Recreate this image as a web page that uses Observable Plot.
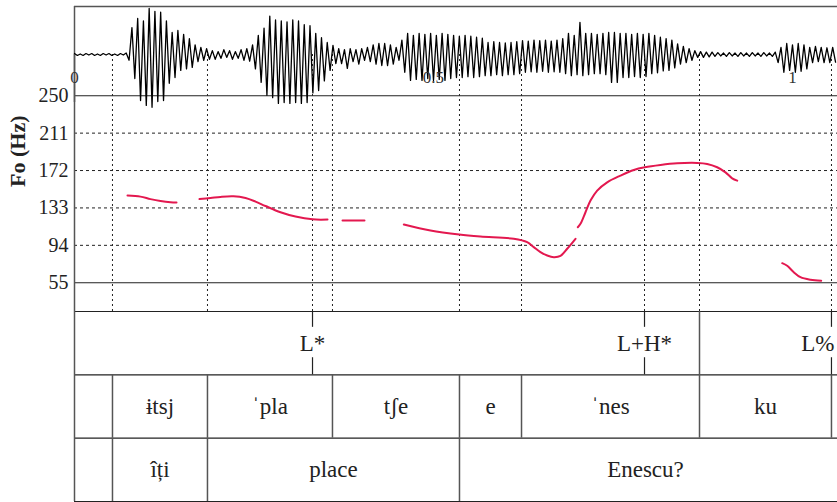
<!DOCTYPE html>
<html>
<head>
<meta charset="utf-8">
<script src="https://cdn.jsdelivr.net/npm/d3@7"></script>
<script src="https://cdn.jsdelivr.net/npm/@observablehq/plot@0.6"></script>
<style>
  html, body { margin: 0; padding: 0; background: #fff; }
  #chart { position: relative; width: 837px; height: 502px; overflow: hidden; }
  #chart svg { position: absolute; left: 0; top: 0; overflow: visible; }
</style>
</head>
<body>
<div id="chart"></div>
<script>
// ---- time axis (seconds) ----
const timeDomain = [0, 1.0627];
const timeTicks = [0, 0.5, 1];

// ---- F0 axis (Hz) ----
const hzDomain = [25, 293];
const hzTicks = [55, 94, 133, 172, 211, 250];
const hzSolid = [55, 250];
const hzDotted = [94, 133, 172, 211];

// ---- waveform: peak amplitudes (full scale = 1), one every 4 ms ----
const waveStart = 0;
const waveStep = 0.004;
const waveAmp = [
  0.02,-0.02,0.01,-0.02,0.02,-0.01,0.02,-0.02,0.01,-0.02,0.02,-0.01,0.02,-0.02,0.01,-0.02,0.02,-0.01,
  0.03,-0.12,0.56,-0.5,0.75,-0.96,0.7,-1.06,0.96,-1.1,0.9,-0.98,0.88,-0.96,0.7,-0.6,0.46,-0.48,0.5,-0.33,0.42,-0.3,0.33,-0.27,0.2,-0.15,0.15,-0.12,0.12,-0.1,
  0.08,-0.1,0.06,-0.08,0.1,-0.06,0.08,-0.1,0.06,-0.08,0.1,-0.12,0.12,-0.14,0.2,-0.3,
  0.4,-0.58,0.55,-0.85,0.8,-0.9,0.72,-1.02,0.7,-1.0,0.68,-1.02,0.72,-1.0,0.7,-1.02,0.62,-1.0,0.6,-0.8,0.44,-0.75,0.35,-0.55,0.25,-0.33,
  0.19,-0.19,0.12,-0.19,0.1,-0.29,0.12,-0.15,0.1,-0.2,0.12,-0.12,0.15,-0.15,0.2,-0.2,0.23,-0.23,0.23,-0.23,0.2,-0.2,0.15,-0.12,0.3,-0.37,0.44,-0.54,0.4,-0.52,
  0.44,-0.54,0.42,-0.5,0.44,-0.54,0.4,-0.52,0.44,-0.54,0.42,-0.5,0.4,-0.48,0.38,-0.48,0.4,-0.46,0.38,-0.48,0.36,-0.46,0.34,-0.44,0.25,-0.44,0.27,-0.42,0.25,-0.44,0.24,-0.42,0.25,-0.42,0.27,-0.4,
  0.29,-0.37,0.28,-0.36,0.3,-0.37,0.29,-0.35,0.3,-0.37,0.28,-0.36,0.3,-0.37,0.33,-0.4,0.44,-0.44,0.4,-0.42,0.67,-0.44,0.44,-0.42,0.44,-0.4,0.42,-0.4,0.44,-0.42,0.46,-0.58,0.46,-0.58,0.44,-0.48,0.44,-0.48,0.42,-0.46,0.44,-0.48,0.42,-0.46,
  0.44,-0.4,0.4,-0.38,0.36,-0.34,0.33,-0.33,0.3,-0.28,0.22,-0.2,0.17,-0.17,0.12,-0.12,0.08,-0.06,0.06,-0.06,0.05,-0.05,0.05,-0.04,
  0.04,-0.03,0.03,-0.04,0.04,-0.03,0.03,-0.04,0.04,-0.03,0.03,-0.04,0.04,-0.03,0.03,-0.04,0.04,-0.03,0.03,-0.04,0.05,
  -0.17,0.15,-0.37,0.23,-0.33,0.2,-0.37,0.23,-0.35,0.2,-0.3,0.15,-0.17,0.17,-0.15,0.15,-0.17,0.14,-0.17,0.15,-0.16
];

// ---- F0 contour (null = unvoiced gap) ----
const f0Time = [
  0.0738, 0.0919, 0.1058, 0.1198, 0.1337, 0.1421, 0.158,
  0.1741, 0.1894, 0.2033, 0.2214, 0.2382, 0.2521, 0.2660, 0.2869, 0.3078, 0.3315, 0.3524, 0.363,
  0.3733, 0.4039, 0.43,
  0.4587, 0.4958, 0.5358, 0.5655, 0.6118, 0.6305, 0.6397, 0.6490, 0.6584, 0.6676, 0.6769, 0.6862, 0.6978, 0.6994,
  0.7010, 0.7047, 0.7117, 0.7187, 0.7280, 0.7419, 0.7604, 0.7790, 0.7943, 0.8162, 0.8394, 0.8673, 0.8812, 0.8951, 0.9067, 0.9160, 0.9230, 0.95,
  0.9857, 0.9926, 1.0018, 1.0111, 1.0251, 1.0400
];
const f0Hz = [
  145.9, 144.8, 142.2, 140.2, 138.9, 138.6, null,
  142.2, 143.3, 144.5, 145.1, 143.3, 139.6, 135.0, 128.5, 124.0, 121.1, 120.9, null,
  119.9, 119.9, null,
  115.7, 109.5, 105.3, 103.2, 100.8, 97.3, 92.1, 86.9, 83.4, 81.7, 83.0, 90.4, 100.8, null,
  112.9, 116.4, 128.5, 140.7, 151.1, 159.7, 166.7, 172.6, 175.4, 177.8, 179.5, 179.9, 178.9, 175.4, 170.1, 163.9, 161.5, null,
  75.4, 72.7, 66.0, 60.8, 58.1, 57.1
];

// ---- annotation tiers ----
const toneTimes = [0.3315, 0.7939, 1.0543];
const toneLabels = ["L*", "L+H*", "L%"];
const toneTierEdges = [0.8705];
const sylBounds = [0.0529, 0.1852, 0.3593, 0.5362, 0.6226, 0.8705, 1.0543];
const sylLabels = ["ɨtsj", "ˈpla", "tʃe", "e", "ˈnes", "ku"];
const wordBounds = [0.0529, 0.1852, 0.5362, 1.0543];
const wordLabels = ["îți", "place", "Enescu?"];

// ---- derived tables ----
const wave = waveAmp.map((a, i) => ({t: waveStart + i * waveStep, a}));
const f0 = f0Time.map((t, i) => ({t, hz: f0Hz[i]}));
const tones = toneTimes.map((t, i) => ({t, label: toneLabels[i]}));
const syllables = sylLabels.map((label, i) => ({label, mid: (sylBounds[i] + sylBounds[i + 1]) / 2}));
const words = wordLabels.map((label, i) => ({label, mid: (wordBounds[i] + wordBounds[i + 1]) / 2}));
const markTimes = Array.from(new Set([...sylBounds, ...toneTimes])).sort(d3.ascending);

const W = 837, LEFT = 74;
const serif = "Liberation Serif, DejaVu Serif, serif";
const ink = "#222", frameInk = "#555";
const svgStyle = size =>
  `background: transparent; overflow: visible; color: ${ink}; font-family: ${serif}; font-size: ${size}px;`;
const label = {fontFamily: serif, fill: ink};

// Pitch panel: grid, boundary guides and F0 contour
const pitch = Plot.plot({
  width: W, height: 316,
  marginLeft: LEFT, marginRight: 0, marginTop: 54, marginBottom: 5,
  style: svgStyle(20),
  x: {domain: timeDomain, axis: null},
  y: {domain: hzDomain, ticks: hzTicks, tickSize: 0, tickPadding: 6, label: null},
  marks: [
    Plot.ruleY(hzDotted, {stroke: ink, strokeWidth: 1, strokeDasharray: "3,3"}),
    Plot.ruleY(hzSolid, {stroke: ink, strokeWidth: 1.2}),
    Plot.ruleY([hzDomain[0]], {stroke: ink, strokeWidth: 1.2}),
    Plot.ruleX(markTimes, {stroke: ink, strokeWidth: 1, strokeDasharray: "2,3"}),
    Plot.ruleX([0], {stroke: frameInk, strokeWidth: 1.5}),
    Plot.line(f0, {x: "t", y: "hz", stroke: "#e3184f", strokeWidth: 2, curve: "catmull-rom"}),
    Plot.text(["Fo (Hz)"], {...label, frameAnchor: "left", rotate: -90, dx: -57, dy: 4,
      fontWeight: "bold", fontSize: 22})
  ]
});

// Waveform panel
const waveform = Plot.plot({
  width: W, height: 110,
  marginLeft: LEFT, marginRight: 0, marginTop: 6, marginBottom: 8,
  style: svgStyle(17),
  x: {domain: timeDomain, axis: null},
  y: {domain: [-1, 1], axis: null},
  marks: [
    Plot.ruleY([1], {stroke: frameInk, strokeWidth: 1.5}),
    Plot.ruleX([0], {stroke: frameInk, strokeWidth: 1.5}),
    Plot.line(wave, {x: "t", y: "a", stroke: "#000", strokeWidth: 1.3}),
    Plot.text(timeTicks, {x: d => d, text: d => String(d), frameAnchor: "bottom", dy: -20,
      fontFamily: serif, fontSize: 17, fill: "#333"})
  ]
});

// Annotation tiers: 0 = tones, 1 = syllables, 2 = words
const tiers = Plot.plot({
  width: W, height: 503,
  marginLeft: LEFT, marginRight: 0, marginTop: 311, marginBottom: 2,
  style: svgStyle(23),
  x: {domain: timeDomain, axis: null},
  y: {domain: [3, 0], axis: null},
  marks: [
    Plot.ruleY([0, 1, 2, 3], {stroke: ink, strokeWidth: 1.2}),
    Plot.ruleX([0], {y1: () => 0, y2: () => 3, stroke: frameInk, strokeWidth: 1.5}),
    Plot.ruleX(toneTierEdges, {y1: () => 0, y2: () => 1, stroke: frameInk, strokeWidth: 1.5}),
    Plot.ruleX(sylBounds, {y1: () => 1, y2: () => 2, stroke: frameInk, strokeWidth: 1.5}),
    Plot.ruleX(wordBounds.slice(0, -1), {y1: () => 2, y2: () => 3, stroke: frameInk, strokeWidth: 1.5}),
    Plot.ruleX(tones, {x: "t", y1: () => 0, y2: () => 0.25, stroke: ink, strokeWidth: 1.2}),
    Plot.ruleX(tones, {x: "t", y1: () => 0.73, y2: () => 1, stroke: ink, strokeWidth: 1.2}),
    Plot.text(tones.slice(0, -1), {...label, x: "t", y: () => 0.5, text: "label", fontSize: 23}),
    Plot.text(tones.slice(-1), {...label, x: "t", y: () => 0.5, text: "label", fontSize: 23,
      textAnchor: "end", dx: 3}),
    Plot.text(syllables, {...label, x: "mid", y: () => 1.5, text: "label", fontSize: 23}),
    Plot.text(words, {...label, x: "mid", y: () => 2.5, text: "label", fontSize: 23})
  ]
});

const chart = document.getElementById("chart");
chart.append(pitch, waveform, tiers);
</script>
</body>
</html>
